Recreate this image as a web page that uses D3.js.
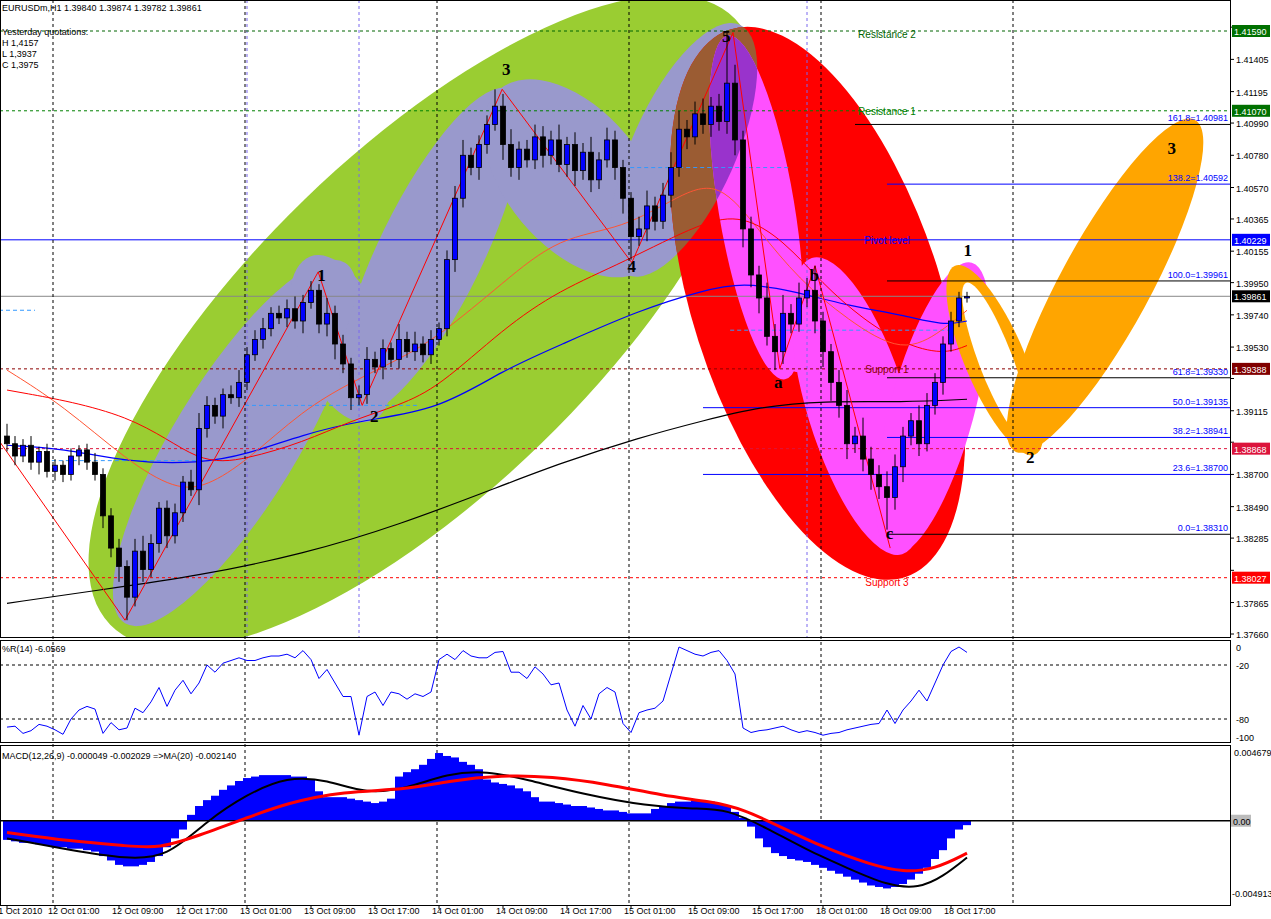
<!DOCTYPE html>
<html><head><meta charset="utf-8">
<script src="https://cdn.jsdelivr.net/npm/d3@7"></script>
<style>
body{margin:0;background:#fff;}
text{font-family:"Liberation Sans",Arial,sans-serif;font-size:10px;}
.wave{font-family:"Liberation Serif","DejaVu Serif",serif;font-weight:bold;font-size:17px;}
</style></head>
<body><div id="chart"></div>
<script>
// ---- data ----
const closes = [
 1.3890,1.3882,1.3889,1.3878,1.3885,1.3872,1.3876,1.3870,1.3882,1.3886,
 1.3878,1.3870,1.3843,1.3822,1.3810,1.3790,1.3820,1.3808,1.3825,1.3848,
 1.3830,1.3845,1.3865,1.3860,1.3900,1.3915,1.3908,1.3922,1.3920,1.3930,
 1.3948,1.3958,1.3965,1.3975,1.3972,1.3978,1.3970,1.3982,1.3990,1.3968,
 1.3975,1.3955,1.3942,1.3920,1.3922,1.3945,1.3940,1.3952,1.3945,1.3958,
 1.3950,1.3955,1.3948,1.3958,1.3965,1.4010,1.4050,1.4078,1.4070,1.4085,
 1.4098,1.4110,1.4085,1.4070,1.4082,1.4075,1.4090,1.4078,1.4088,1.4072,
 1.4085,1.4068,1.4080,1.4062,1.4075,1.4088,1.4070,1.4050,1.4025,1.4030,
 1.4045,1.4035,1.4052,1.4070,1.4095,1.4090,1.4105,1.4098,1.4110,1.4100,
 1.4125,1.4088,1.4030,1.4000,1.3985,1.3960,1.3950,1.3975,1.3968,1.3985,
 1.3990,1.3970,1.3950,1.3930,1.3915,1.3890,1.3895,1.3880,1.3870,1.3862,
 1.3855,1.3875,1.3895,1.3905,1.3890,1.3915,1.3930,1.3955,1.3970,1.3985,
 1.3986];
const firstOpen = 1.3895;
// wicks in pips above/below body
const wickUp = [
 8,5,4,6,3,5,4,3,5,3, 4,6,4,5,6,4,8,10,6,4, 5,6,4,8,10,6,5,4,6,8,
 5,6,7,4,5,6,8,5,6,4, 10,5,6,4,6,8,5,6,4,10, 5,8,5,6,4,6,8,10,5,6,
 6,11,8,10,5,6,8,7,6,10, 5,8,6,10,5,8,6,5,4,8, 10,6,8,10,12,6,8,10,6,8,
 33,12,6,8,6,10,8,12,6,10, 8,16,6,5,8,10,6,12,8,6, 10,8,6,5,10,8,6,5,6,4, 3];
const wickDn = [
 5,6,4,5,8,4,6,5,4,6, 5,4,8,6,10,15,6,8,5,6, 8,5,6,4,10,6,5,8,4,6,
 5,4,6,5,4,6,5,8,4,6, 8,10,6,8,5,6,4,8,5,6, 4,6,5,6,4,5,8,6,5,8,
 6,4,10,6,8,5,6,8,6,5, 8,10,6,8,6,5,8,10,15,6, 8,6,5,8,6,8,5,6,8,6,
 8,10,12,8,10,6,12,8,6,5, 6,8,10,12,8,10,6,8,10,8, 21,8,10,6,8,5,6,8,5,4, 3];

const maRedFast = [[0,1.3925],[16,1.3910],[24,1.3876],[30,1.3880],[37,1.3891],[43,1.3905],[49,1.3915],[54,1.3927],[62,1.3965],[69,1.3990],[77,1.4008],[87,1.4035],[92,1.4039],[97,1.4023],[102,1.3994],[107,1.3971],[112,1.3955],[117,1.3948],[120,1.3954]];
const maRedSlow = [[0,1.3938],[7,1.3915],[15,1.3879],[21,1.3860],[25,1.3862],[30,1.3879],[37,1.3912],[43,1.3930],[49,1.3945],[54,1.3960],[62,1.3995],[69,1.4025],[77,1.4030],[84,1.4052],[89,1.4062],[94,1.4029],[99,1.3997],[105,1.3971],[112,1.3948],[117,1.3964],[120,1.3977]];
const maBlue = [[0,1.3889],[7,1.3887],[15,1.3878],[24,1.3877],[30,1.3883],[37,1.3896],[44,1.3905],[54,1.3912],[62,1.3938],[69,1.3954],[79,1.3977],[87,1.3990],[92,1.3995],[98,1.3990],[105,1.3980],[112,1.3974],[117,1.3967],[120,1.3970]];
const maBlack = [[0,1.3786],[12,1.3795],[24,1.3804],[37,1.3818],[49,1.3837],[62,1.3863],[69,1.3877],[79,1.3894],[87,1.3905],[94,1.3914],[102,1.3918],[112,1.3917],[120,1.3919]];

const zigzag = [[-1,1.3892],[14.75,1.3775],[38.9,1.4002],[44.4,1.3915],[61.9,1.4121],[78.1,1.4008],[90.75,1.4158],[96.6,1.3939],[101,1.4006],[110.4,1.3822]];
const waveNames = ["1","2","3","4","5","a","b","c","1","2","3"];
const waveIdx   = [39.3,45.9,62.4,78.1,89.9,96.4,100.9,110.3,120.1,127.9,145.6];
const wavePrice = [1.4000,1.3908,1.4134,1.4006,1.4156,1.3930,1.4000,1.3832,1.4016,1.3881,1.4083];

// ellipses: [idx,price] end points of major axis, half width px
const ellipses = [
 {a:[12.9,1.3772], b:[91,1.4167],   w:170, c:"#9acd32"},
 {a:[14.75,1.3773],b:[42.25,1.4008],w:62,  c:"#9999cc"},
 {a:[37.9,1.4012], b:[45.6,1.3905], w:44,  c:"#9999cc"},
 {a:[43.1,1.3909], b:[62.9,1.4121], w:52,  c:"#9999cc"},
 {a:[61.6,1.4121], b:[80.1,1.4005], w:68,  c:"#9999cc"},
 {a:[77.6,1.4000], b:[91.6,1.4163], w:52,  c:"#9999cc", id:"lav5"},
 {a:[90.4,1.4160], b:[112.25,1.3803],w:125,c:"#ff0000", id:"redBig"},
 {a:[77.6,1.4000], b:[91.6,1.4163], w:52,  c:"#9b5c33", clip:"redBig"},
 {a:[90.1,1.4156], b:[97.25,1.3932],w:38,  c:"#ff50ff"},
 {a:[90.1,1.4156], b:[97.25,1.3932],w:38,  c:"#9933cc", clip:"lav5"},
 {a:[98.5,1.3937], b:[101.9,1.4006],w:24,  c:"#ff50ff"},
 {a:[99.1,1.3948], b:[101.4,1.3995],w:12,  c:"#ff0000"},
 {a:[100.6,1.4011],b:[111.9,1.3818],w:50,  c:"#ff50ff"},
 {a:[110.75,1.3818],b:[120.6,1.4008],w:42, c:"#ff50ff"},
 {a:[118.5,1.4006],b:[128.5,1.3883],w:30,  c:"#ffa500"},
 {a:[119.9,1.3995],b:[127.25,1.3894],w:17, c:"#ffffff"},
 {a:[126,1.3885],  b:[148.5,1.4101],w:45,  c:"#ffa500"}
];

const levelPrices = [1.41590,1.41070,1.40229,1.39388,1.38868,1.38027];
const levelNames  = ["Resistance 2","Resistance 1","Pivot level","Support 1","","Support 3"];
const levelColors = ["#006400","#008000","#0000ff","#8b0000","#dc143c","#ff0000"];
const levelDash   = [true,true,false,true,true,true];
const levelBoxTxt = ["1.41590","1.41070","1.40229","1.39388","1.38868","1.38027"];
const currentPrice = 1.39861;

const fibLevels = ["161.8","138.2","100.0","61.8","50.0","38.2","23.6","0.0"];
const fibPrices = [1.40981,1.40592,1.39961,1.39330,1.39135,1.38941,1.38700,1.38310];

const bidMarks = [[-1,3.5,1.3977],[5.6,27.6,1.3879],[29.75,51.6,1.3915],[77.9,97.9,1.4070],[90.4,117.9,1.3964]];

const priceTicks = [1.41615,1.41405,1.41195,1.40990,1.40780,1.40570,1.40365,1.40155,1.39950,1.39740,1.39530,1.39325,1.39115,1.38910,1.38700,1.38490,1.38285,1.38075,1.37865,1.37660];

const wpr = [
 -89,-88,-96,-93,-86,-88,-92,-97,-80,-70, -66,-69,-96,-84,-92,-90,-68,-73,-61,-45,
 -66,-48,-37,-52,-40,-20,-28,-18,-15,-12, -15,-15,-12,-10,-10,-8,-12,-4,-14,-35,
 -25,-40,-55,-55,-98,-55,-50,-65,-50,-52, -58,-52,-55,-50,-14,-8,-14,-4,-10,-12,
 -12,-6,-5,-28,-28,-35,-22,-30,-42,-40, -70,-88,-65,-80,-52,-45,-50,-85,-95,-73,
 -70,-68,-60,-30,0,-4,-8,-10,-6,-4, -15,-30,-90,-95,-93,-92,-90,-88,-92,-95,
 -93,-95,-98,-96,-95,-92,-90,-88,-86,-85, -70,-85,-70,-60,-48,-60,-40,-20,-5,0,
 -6];

const macdHist = [
 -0.0013,-0.0014,-0.0015,-0.0015,-0.0016,-0.0017,-0.0018,-0.0018,-0.0019,-0.0019,
 -0.0020,-0.0021,-0.0024,-0.0027,-0.0030,-0.0031,-0.0031,-0.0030,-0.0028,-0.0024,
 -0.0018,-0.0012,-0.0006,0.0004,0.0010,0.0014,0.0017,0.0021,0.0024,0.0027,
 0.0029,0.0030,0.0031,0.0031,0.0031,0.0031,0.0030,0.0030,0.0028,0.0020,
 0.0016,0.0016,0.0016,0.0015,0.0014,0.0013,0.0012,0.0013,0.0015,0.0030,
 0.0033,0.0035,0.0038,0.0042,0.0046,0.0044,0.0043,0.0040,0.0038,0.0035,
 0.0028,0.0026,0.0025,0.0024,0.0022,0.0020,0.0016,0.0013,0.0013,0.0012,
 0.0011,0.0010,0.0010,0.0009,0.0008,0.0007,0.0007,0.0006,0.0005,0.0005,
 0.0005,0.0008,0.0010,0.0012,0.0013,0.0013,0.0014,0.0014,0.0013,0.0012,
 0.0010,0.0006,0.0002,-0.0004,-0.0012,-0.0018,-0.0022,-0.0024,-0.0026,-0.0027,
 -0.0028,-0.0030,-0.0032,-0.0034,-0.0036,-0.0038,-0.0040,-0.0042,-0.0044,-0.0045,
 -0.0046,-0.0045,-0.0043,-0.0040,-0.0036,-0.0032,-0.0026,-0.0020,-0.0012,-0.0006,
 -0.0003];
const macdMain = [[0,-0.0012],[8,-0.0020],[15,-0.0026],[20,-0.0025],[25,0],[30,0.0018],[35,0.0030],[40,0.0028],[45,0.0018],[50,0.0022],[55,0.0032],[60,0.0034],[65,0.0028],[72,0.0018],[80,0.0010],[86,0.0008],[90,0.0008],[95,-0.0005],[100,-0.0020],[105,-0.0032],[110,-0.0044],[114,-0.0046],[117,-0.0038],[120,-0.0025]];
const macdMa = [[0,-0.0008],[8,-0.0014],[15,-0.0017],[19,-0.0019],[24,-0.0010],[30,0.0002],[35,0.0012],[42,0.0020],[50,0.0021],[55,0.0027],[62,0.0031],[68,0.0030],[75,0.0025],[82,0.0017],[88,0.0013],[92,0.0008],[97,-0.0005],[102,-0.0018],[108,-0.0030],[112,-0.0035],[116,-0.0033],[120,-0.0022]];

const timeIdx = [0,6,14,22,30,38,46,54,62,70,78,86,94,102,110,118];
const timeTxt = ["11 Oct 2010","12 Oct 01:00","12 Oct 09:00","12 Oct 17:00","13 Oct 01:00","13 Oct 09:00","13 Oct 17:00","14 Oct 01:00","14 Oct 09:00","14 Oct 17:00","15 Oct 01:00","15 Oct 09:00","15 Oct 17:00","18 Oct 01:00","18 Oct 09:00","18 Oct 17:00"];
const dayGrid = [6,30,54,78,102,126];
const markGrid = [30,44,100];

// ---- layout ----
const W = 1271, H = 919, plotR = 1230;
const svg = d3.select("#chart").append("svg").attr("width",W).attr("height",H);
svg.append("rect").attr("width",W).attr("height",H).attr("fill","#fff");

const x = d3.scaleLinear().domain([0,1]).range([7,15]);
const y = d3.scaleLinear().domain([1.37660,1.41590]).range([634,31]);
const yR = d3.scaleLinear().domain([-100,0]).range([737,647]);
const yM = d3.scaleLinear().domain([-0.00491,0.00467]).range([893,752]);

const defs = svg.append("defs");
defs.append("clipPath").attr("id","mainClip").append("rect").attr("x",0).attr("y",0).attr("width",plotR).attr("height",637);
defs.append("clipPath").attr("id","wprClip").append("rect").attr("x",0).attr("y",641).attr("width",plotR).attr("height",101);
defs.append("clipPath").attr("id","macdClip").append("rect").attr("x",0).attr("y",745).attr("width",plotR).attr("height",160);

const main = svg.append("g").attr("clip-path","url(#mainClip)");

// ellipses
function ellGeom(e){
  const x1=x(e.a[0]),y1=y(e.a[1]),x2=x(e.b[0]),y2=y(e.b[1]);
  return {cx:(x1+x2)/2, cy:(y1+y2)/2, rx:Math.hypot(x2-x1,y2-y1)/2,
          ang:Math.atan2(y2-y1,x2-x1)*180/Math.PI};
}
ellipses.forEach(e=>{
  const g=ellGeom(e);
  const tf=`translate(${g.cx},${g.cy}) rotate(${g.ang})`;
  if(e.id){
    defs.append("clipPath").attr("id",e.id).append("ellipse")
      .attr("rx",g.rx).attr("ry",e.w).attr("transform",tf);
  }
  const holder = e.clip ? main.append("g").attr("clip-path",`url(#${e.clip})`) : main;
  holder.append("ellipse").attr("rx",g.rx).attr("ry",e.w).attr("fill",e.c).attr("transform",tf);
});

// grid
dayGrid.forEach(i=>{
  svg.append("line").attr("x1",x(i)-2).attr("x2",x(i)-2).attr("y1",0).attr("y2",905)
    .attr("stroke","#000").attr("stroke-dasharray","3,3").attr("stroke-width",1);
});
markGrid.forEach(i=>{
  main.append("line").attr("x1",x(i)).attr("x2",x(i)).attr("y1",0).attr("y2",637)
    .attr("stroke","#7b68ee").attr("stroke-dasharray","3,3");
});

// levels
levelPrices.forEach((p,k)=>{
  main.append("line").attr("x1",0).attr("x2",plotR).attr("y1",y(p)).attr("y2",y(p))
    .attr("stroke",levelColors[k]).attr("stroke-dasharray",levelDash[k]?"3,3":null);
  if(levelNames[k]) main.append("text").attr("x",x(110)).attr("y",y(p)+(k===5?8:(k===0?7:4)))
    .attr("text-anchor","middle").attr("fill",levelColors[k]).text(levelNames[k]);
});
main.append("line").attr("x1",0).attr("x2",plotR).attr("y1",y(currentPrice)).attr("y2",y(currentPrice))
  .attr("stroke","#888");

bidMarks.forEach(b=>{
  main.append("line").attr("x1",x(b[0])).attr("x2",x(b[1])).attr("y1",y(b[2])).attr("y2",y(b[2]))
    .attr("stroke","#3399ff").attr("stroke-dasharray","4,3");
});

// fibs
fibLevels.forEach((f,k)=>{
  const blk = (f==="161.8"||f==="100.0"||f==="0.0"||f==="61.8");
  const start = (f==="50.0"||f==="23.6")?87:(f==="161.8"?106:110);
  main.append("line").attr("x1",x(start)).attr("x2",plotR).attr("y1",y(fibPrices[k])).attr("y2",y(fibPrices[k]))
    .attr("stroke",blk?"#000":"#0000ff");
  main.append("text").attr("x",plotR-2).attr("y",y(fibPrices[k])-3).attr("text-anchor","end")
    .attr("fill","#0000ff").style("font-size","9px").text(f+"="+fibPrices[k].toFixed(5));
});

// MAs
const maLine = d3.line().x(d=>x(d[0])).y(d=>y(d[1])).curve(d3.curveBasis);
[[maBlack,"#000",1.2],[maBlue,"#0000ff",1.2],[maRedSlow,"#ff5533",1],[maRedFast,"#ff0000",1]].forEach(m=>{
  main.append("path").attr("d",maLine(m[0])).attr("fill","none").attr("stroke",m[1]).attr("stroke-width",m[2]);
});

// zigzag
main.append("path").attr("d",d3.line().x(d=>x(d[0])).y(d=>y(d[1]))(zigzag))
  .attr("fill","none").attr("stroke","#ff0000").attr("stroke-width",1);

// candles
const bars = closes.map((c,i)=>{
  const o = i===0?firstOpen:closes[i-1];
  return {i,o,c,h:Math.max(o,c)+wickUp[i]*0.0001,l:Math.min(o,c)-wickDn[i]*0.0001};
});
const cg = main.append("g");
cg.selectAll("line").data(bars).join("line")
  .attr("x1",d=>x(d.i)).attr("x2",d=>x(d.i)).attr("y1",d=>y(d.h)).attr("y2",d=>y(d.l))
  .attr("stroke","#000");
cg.selectAll("rect").data(bars).join("rect")
  .attr("x",d=>x(d.i)-2.5).attr("width",5)
  .attr("y",d=>y(Math.max(d.o,d.c))).attr("height",d=>Math.max(1,Math.abs(y(d.o)-y(d.c))))
  .attr("fill",d=>d.c>d.o?"#0000ff":"#000").attr("stroke","#000").attr("stroke-width",0.8);

// wave labels
waveNames.forEach((n,k)=>{
  main.append("text").attr("class","wave").attr("x",x(waveIdx[k])).attr("y",y(wavePrice[k]))
    .attr("text-anchor","middle").attr("dy","0.35em").text(n);
});

// top-left info
[["EURUSDm,H1  1.39840 1.39874 1.39782 1.39861",11],["Yesterday quotations:",35],["H 1,4157",46],["L 1,3937",57],["C 1,3975",68]]
 .forEach(t=>svg.append("text").attr("x",2).attr("y",t[1]).style("font-size","9px").text(t[0]));

// right axis
const boxes = levelPrices.map((p,k)=>[p,levelBoxTxt[k],k<2?"#007000":k===2?"#0000ff":k===3?"#800000":k===4?"#dc143c":"#ff0000"]);
boxes.push([currentPrice,"1.39861","#000"]);
priceTicks.forEach(p=>{
  svg.append("line").attr("x1",plotR).attr("x2",plotR+4).attr("y1",y(p)).attr("y2",y(p)).attr("stroke","#000");
  if(boxes.some(b=>Math.abs(y(b[0])-y(p))<10)) return;
  svg.append("text").attr("x",plotR+6).attr("y",y(p)+4).style("font-size","9px").text(p.toFixed(5));
});
boxes.forEach(b=>{
  svg.append("rect").attr("x",plotR+2).attr("y",y(b[0])-6).attr("width",38).attr("height",12).attr("fill",b[2]);
  svg.append("text").attr("x",plotR+4).attr("y",y(b[0])+4).attr("fill","#fff").style("font-size","9px").text(b[1]);
});

// %R panel
const wg = svg.append("g").attr("clip-path","url(#wprClip)");
[-20,-80].forEach(v=>wg.append("line").attr("x1",0).attr("x2",plotR).attr("y1",yR(v)).attr("y2",yR(v))
  .attr("stroke","#000").attr("stroke-dasharray","3,3"));
wg.append("path").attr("d",d3.line().x((d,i)=>x(i)).y(d=>yR(d))(wpr)).attr("fill","none").attr("stroke","#0000ff");
svg.append("text").attr("x",2).attr("y",652).style("font-size","9px").text("%R(14) -6.0569");
[0,-20,-80,-100].forEach(v=>svg.append("text").attr("x",plotR+6).attr("y",yR(v)+4).style("font-size","9px").text(v));

// MACD panel
const mg = svg.append("g").attr("clip-path","url(#macdClip)");
mg.selectAll("rect").data(macdHist).join("rect")
  .attr("x",(d,i)=>x(i)-4).attr("width",8)
  .attr("y",d=>Math.min(yM(d),yM(0))).attr("height",d=>Math.abs(yM(d)-yM(0)))
  .attr("fill","#0000ff");
mg.append("line").attr("x1",0).attr("x2",plotR).attr("y1",yM(0)).attr("y2",yM(0)).attr("stroke","#000").attr("stroke-width",1.5);
const mLine = d3.line().x(d=>x(d[0])).y(d=>yM(d[1])).curve(d3.curveBasis);
mg.append("path").attr("d",mLine(macdMain)).attr("fill","none").attr("stroke","#000").attr("stroke-width",2);
mg.append("path").attr("d",mLine(macdMa)).attr("fill","none").attr("stroke","#ff0000").attr("stroke-width",3);
svg.append("text").attr("x",2).attr("y",759).style("font-size","9px").text("MACD(12,26,9) -0.000049 -0.002029  =>MA(20) -0.002140");
svg.append("text").attr("x",plotR+4).attr("y",yM(0.00467)+4).style("font-size","9px").text("0.004679");
svg.append("rect").attr("x",plotR+1).attr("y",yM(0)-6).attr("width",20).attr("height",12).attr("fill","#bbb");
svg.append("text").attr("x",plotR+3).attr("y",yM(0)+4).style("font-size","9px").text("0.00");
svg.append("text").attr("x",plotR+2).attr("y",yM(-0.00491)+4).style("font-size","9px").text("-0.004913");

// panel frames
[[0,637],[640,742],[745,905]].forEach(r=>{
  svg.append("rect").attr("x",0.5).attr("y",r[0]+0.5).attr("width",plotR).attr("height",r[1]-r[0])
    .attr("fill","none").attr("stroke","#000");
});

// time axis
timeIdx.forEach((i,k)=>{
  svg.append("line").attr("x1",x(i)).attr("x2",x(i)).attr("y1",905).attr("y2",909).attr("stroke","#000");
  svg.append("text").attr("x",k===0?-6:x(i)-7).attr("y",914).style("font-size","9px").text(timeTxt[k]);
});
</script></body></html>
